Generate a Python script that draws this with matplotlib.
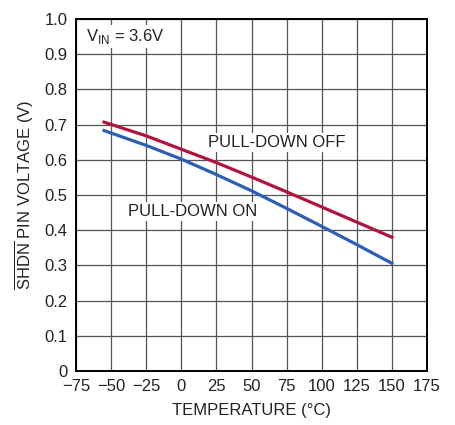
import matplotlib
matplotlib.use("Agg")
import matplotlib.pyplot as plt
import numpy as np

plt.rcParams["font.family"] = ["Liberation Sans", "DejaVu Sans"]
plt.rcParams["mathtext.fontset"] = "custom"
plt.rcParams["mathtext.rm"] = "Liberation Sans"

# temperature (C) and SHDN voltage (V)
temp = [-55, -25, 0, 25, 50, 75, 100, 125, 150]
v_off = [0.707, 0.668, 0.630, 0.592, 0.551, 0.509, 0.466, 0.423, 0.380]
v_on = [0.683, 0.641, 0.602, 0.558, 0.512, 0.462, 0.411, 0.359, 0.306]

fig = plt.figure(figsize=(4.55, 4.25), dpi=100)
ax = fig.add_axes([76 / 455, 54 / 425, 351 / 455, 352 / 425])

ax.plot(temp, v_off, color="#b3123c", lw=2.3, zorder=5)
ax.plot(temp, v_on, color="#2d5db7", lw=2.3, zorder=5)

ax.set_xlim(-75, 175)
ax.set_ylim(0, 1.0)
ax.set_xticks(np.arange(-75, 176, 25))
ax.set_yticks(np.arange(0, 1.01, 0.1))
ax.set_xticklabels(["\u221275", "\u221250", "\u221225", "0", "25", "50", "75",
                    "100", "125", "150", "175"])
ax.set_yticklabels(["0", "0.1", "0.2", "0.3", "0.4", "0.5", "0.6", "0.7",
                    "0.8", "0.9", "1.0"])
ax.tick_params(length=0, labelsize=12, pad=6, colors="#222222")
ax.grid(True, color="#555555", lw=0.9)
ax.set_axisbelow(True)
for s in ax.spines.values():
    s.set_linewidth(1.4)

ax.set_xlabel("TEMPERATURE (\u00b0C)", fontsize=12, labelpad=6, color="#222222")
ax.set_ylabel(r"$\overline{\mathrm{SHDN}}$ PIN VOLTAGE (V)", fontsize=12,
              labelpad=6, color="#222222")

box = dict(facecolor="white", edgecolor="none", pad=1.5)
ax.text(-68, 0.95, r"V$_{\mathrm{IN}}$ = 3.6V", fontsize=12, va="center",
        ha="left", bbox=box, zorder=6, color="#222222")
ax.text(19, 0.648, "PULL-DOWN OFF", fontsize=12, va="center", ha="left",
        bbox=box, zorder=6, color="#222222")
ax.text(-38, 0.452, "PULL-DOWN ON", fontsize=12, va="center", ha="left",
        bbox=box, zorder=6, color="#222222")

fig.savefig("out.png", dpi=100)
